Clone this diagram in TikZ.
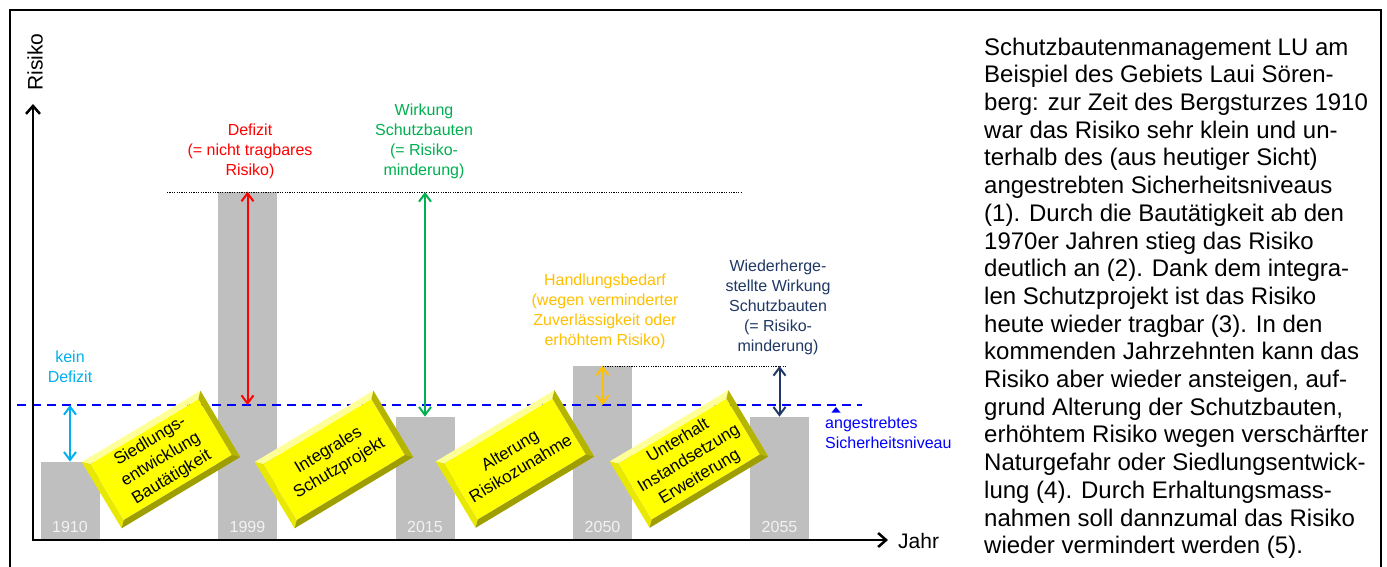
\documentclass[tikz,border=0pt]{standalone}
\usepackage{fontspec}
\setmainfont{Liberation Sans}
\usetikzlibrary{arrows.meta}
\definecolor{barg}{HTML}{BFBFBF}
\definecolor{yrc}{HTML}{F2F2F2}
\definecolor{cyanc}{HTML}{00B0F0}
\definecolor{redc}{HTML}{FF0000}
\definecolor{greenc}{HTML}{00B050}
\definecolor{orangec}{HTML}{FFC000}
\definecolor{navyc}{HTML}{1F3864}
\definecolor{bluec}{HTML}{0000FF}
\definecolor{ylw}{HTML}{FFFF00}
\definecolor{bvN}{HTML}{FFFF9A}
\definecolor{bvW}{HTML}{E8E800}
\definecolor{bvE}{HTML}{B5B500}
\definecolor{bvS}{HTML}{9E9E00}
\newcommand\ybevbox[3]{%
  \node[bxo] (#1o) at (#2) {};
  \node[bxi] (#1) at (#2) {#3};
  \fill[bvN] (#1o.north west) -- (#1o.north east) -- (#1.north east) -- (#1.north west) -- cycle;
  \fill[bvW] (#1o.north west) -- (#1.north west) -- (#1.south west) -- (#1o.south west) -- cycle;
  \fill[bvE] (#1o.north east) -- (#1o.south east) -- (#1.south east) -- (#1.north east) -- cycle;
  \fill[bvS] (#1o.south west) -- (#1o.south east) -- (#1.south east) -- (#1.south west) -- cycle;
}
\begin{document}
\begin{tikzpicture}[x=1pt,y=-1pt,
  bar/.style={fill=barg, draw=none, inner sep=0pt, minimum width=59pt, anchor=south},
  yr/.style={text=yrc, font=\fontsize{16}{19}\selectfont, inner sep=0pt, anchor=base},
  lbl/.style={font=\fontsize{16}{20}\selectfont, align=center, inner sep=0pt, anchor=north},
  arr/.style={line width=2pt, {Straight Barb[length=8pt,width=12pt]}-{Straight Barb[length=8pt,width=12pt]}},
  axis/.style={line width=2.5pt, line join=miter, {Straight Barb[length=8pt,width=14pt]}-{Straight Barb[length=8pt,width=14pt]}},
  bxo/.style={rotate=31, minimum width=138pt, minimum height=77pt, inner sep=0pt},
  bxi/.style={rotate=31, minimum width=126pt, minimum height=65pt, inner sep=0pt, fill=ylw, text=black, font=\fontsize{17}{21}\selectfont, align=center},
  dotl/.style={line width=0.7pt, dash pattern=on 1.2pt off 1.2pt},
]
\useasboundingbox (0,0) rectangle (1387,566);
\clip (0,0) rectangle (1387,566);
\fill[white] (0,0) rectangle (1387,566);
% frame
\draw[line width=2pt] (10,10) rectangle (1381,620);

% bars
\node[bar, minimum height=78pt]  (b1910) at (70,540) {};
\node[bar, minimum height=348pt] (b1999) at (247.5,540) {};
\node[bar, minimum height=123pt] (b2015) at (425,540) {};
\node[bar, minimum height=174pt] (b2050) at (602.5,540) {};
\node[bar, minimum height=123pt] (b2055) at (779.5,540) {};
\node[yr] (y1910) at (70,532) {1910};
\node[yr] (y1999) at (247.5,532) {1999};
\node[yr] (y2015) at (425,532) {2015};
\node[yr] (y2050) at (602.5,532) {2050};
\node[yr] (y2055) at (779.5,532) {2055};

% target level
\coordinate (dl) at (17,405);
\coordinate (dr) at (862,405);
\draw[bluec, line width=1.8pt, dash pattern=on 9pt off 6pt] (dl) -- (dr);
\fill[bluec] (831.5,412.5) -- (840.5,412.5) -- (836,407) -- cycle;
\node[anchor=north west, inner sep=0pt, align=left, text=bluec, font=\fontsize{16}{20}\selectfont] (ziel) at (825,416.5) {angestrebtes\\Sicherheitsniveau};

% dotted reference lines
\coordinate (d1a) at (167,192);
\coordinate (d1b) at (742,192);
\draw[dotl] (d1a) -- (d1b);
\coordinate (d2a) at (602.5,366);
\coordinate (d2b) at (787,366);
\draw[dotl] (d2a) -- (d2b);

% boxes
\ybevbox{bx1}{161,459.5}{Siedlungs-\\entwicklung\\Bautätigkeit}
\ybevbox{bx2}{334,459.5}{Integrales\\Schutzprojekt}
\ybevbox{bx3}{515,459}{Alterung\\Risikozunahme}
\ybevbox{bx4}{689,459}{Unterhalt\\Instandsetzung\\Erweiterung}

% arrows
\coordinate (k1) at (70,405);
\draw[arr, cyanc] (k1) -- (b1910.north);
\coordinate (r1) at (247.5,405);
\draw[arr, redc] (b1999.north) -- (r1);
\coordinate (g1) at (425,192);
\draw[arr, greenc] (g1) -- (b2015.north);
\coordinate (o1) at (602.5,405);
\draw[arr, orangec] (b2050.north) -- (o1);
\coordinate (n1) at (779.5,366);
\draw[arr, navyc] (n1) -- (b2055.north);

% labels
\node[lbl, text=cyanc] (lk) at (70,350.5) {kein\\Defizit};
\node[lbl, text=redc] (lr) at (250,123.5) {Defizit\\(= nicht tragbares\\Risiko)};
\node[lbl, text=greenc] (lg) at (424,103.5) {Wirkung\\Schutzbauten\\(= Risiko-\\minderung)};
\node[lbl, text=orangec] (lo) at (605,273.5) {Handlungsbedarf\\(wegen verminderter\\Zuverlässigkeit oder\\erhöhtem Risiko)};
\node[lbl, text=navyc] (ln) at (778,259.5) {Wiederherge-\\stellte Wirkung\\Schutzbauten\\(= Risiko-\\minderung)};

% axes
\coordinate (O) at (33,540);
\coordinate (xe) at (888,540);
\coordinate (ye) at (33,104);
\draw[axis] (ye) -- (O) -- (xe);
\node[rotate=90, inner sep=0pt, font=\fontsize{21}{25}\selectfont] (ylab) at (35,62) {Risiko};
\node[anchor=west, inner sep=0pt, font=\fontsize{21}{25}\selectfont] (xlab) at (898,541) {Jahr};

% description
\node[anchor=north west, inner sep=0pt, align=left, font=\fontsize{24}{27.7}\selectfont] (desc) at (984,37.5) {Schutzbautenmanagement LU am\\
Beispiel des Gebiets Laui Sören-\\
berg: zur Zeit des Bergsturzes 1910\\
war das Risiko sehr klein und un-\\
terhalb des (aus heutiger Sicht)\\
angestrebten Sicherheitsniveaus\\
(1). Durch die Bautätigkeit ab den\\
1970er Jahren stieg das Risiko\\
deutlich an (2). Dank dem integra-\\
len Schutzprojekt ist das Risiko\\
heute wieder tragbar (3). In den\\
kommenden Jahrzehnten kann das\\
Risiko aber wieder ansteigen, auf-\\
grund Alterung der Schutzbauten,\\
erhöhtem Risiko wegen verschärfter\\
Naturgefahr oder Siedlungsentwick-\\
lung (4). Durch Erhaltungsmass-\\
nahmen soll dannzumal das Risiko\\
wieder vermindert werden (5).};
\end{tikzpicture}
\end{document}
